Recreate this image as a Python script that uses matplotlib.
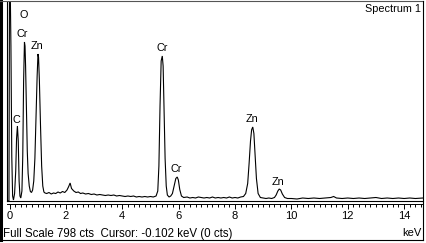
import matplotlib
matplotlib.use("Agg")
import matplotlib.pyplot as plt
from matplotlib.lines import Line2D

# ---------------- data ----------------
energy_kev = [
    -0.10, -0.06, -0.02, 0.00, 0.02, 0.05, 0.08, 0.11, 0.14, 0.18, 0.22, 0.25, 0.28, 0.31, 0.34,
    0.37, 0.40, 0.44, 0.47, 0.50, 0.53, 0.55, 0.57, 0.60, 0.63, 0.66, 0.70, 0.74, 0.78, 0.82,
    0.86, 0.90, 0.94, 0.98, 1.01, 1.03, 1.06, 1.10, 1.14, 1.18, 1.22, 1.26, 1.32, 1.40, 1.48,
    1.56, 1.64, 1.72, 1.80, 1.88, 1.96, 2.04, 2.10, 2.15, 2.20, 2.28, 2.36, 2.44, 2.52, 2.60,
    2.70, 2.80, 2.90, 3.00, 3.10, 3.20, 3.30, 3.40, 3.50, 3.60, 3.70, 3.80, 3.90, 4.00, 4.10,
    4.20, 4.30, 4.40, 4.50, 4.60, 4.70, 4.80, 4.90, 5.00, 5.10, 5.20, 5.26, 5.30, 5.34, 5.38,
    5.42, 5.45, 5.48, 5.52, 5.56, 5.60, 5.66, 5.72, 5.78, 5.84, 5.90, 5.95, 5.99, 6.04, 6.10,
    6.18, 6.30, 6.40, 6.50, 6.60, 6.70, 6.80, 6.90, 7.00, 7.10, 7.20, 7.30, 7.40, 7.50, 7.60,
    7.70, 7.80, 7.90, 8.00, 8.10, 8.20, 8.30, 8.38, 8.45, 8.50, 8.55, 8.59, 8.63, 8.67, 8.71,
    8.76, 8.82, 8.90, 9.00, 9.10, 9.20, 9.30, 9.40, 9.46, 9.52, 9.57, 9.62, 9.68, 9.76, 9.86,
    10.00, 10.20, 10.40, 10.60, 10.80, 11.00, 11.20, 11.40, 11.50, 11.60, 11.80, 12.00, 12.20,
    12.40, 12.60, 12.80, 13.00, 13.20, 13.40, 13.60, 13.80, 14.00, 14.20, 14.40, 14.67,
]
counts = [
    0, 0, 0, 900, 900, 620, 180, 20, 4, 30, 120, 250, 300, 240, 80,
    20, 12, 40, 180, 480, 636, 620, 540, 380, 200, 110, 60, 38, 34, 44,
    80, 170, 330, 500, 588, 575, 480, 300, 140, 60, 36, 32, 30, 34, 28,
    32, 30, 36, 32, 38, 34, 44, 58, 72, 50, 40, 34, 36, 30, 32,
    28, 30, 26, 28, 24, 26, 24, 22, 24, 22, 24, 20, 22, 20, 18,
    20, 18, 20, 16, 18, 16, 18, 16, 18, 16, 20, 40, 140, 380, 560,
    580, 540, 380, 170, 60, 24, 16, 20, 30, 60, 90, 96, 84, 46, 20,
    14, 16, 12, 14, 12, 16, 14, 12, 14, 12, 16, 12, 14, 12, 14,
    12, 16, 12, 14, 12, 16, 18, 30, 70, 150, 240, 285, 296, 270, 190,
    90, 30, 14, 12, 10, 12, 10, 14, 24, 40, 48, 44, 28, 14, 10,
    10, 8, 12, 10, 12, 10, 12, 14, 18, 12, 10, 12, 10,
    12, 10, 12, 14, 10, 12, 10, 12, 10, 12, 10, 12,
]
full_scale = 798
x_range = (-0.10, 14.67)
major_ticks = [0, 2, 4, 6, 8, 10, 12, 14]
minor_step = 0.2

peak_labels = ["O", "Cr", "Zn", "C", "Cr", "Cr", "Zn", "Zn"]
label_kev = [0.52, 0.46, 0.96, 0.23, 5.41, 5.93, 8.60, 9.53]
label_cts = [746, 670, 622, 324, 614, 128, 330, 76]

status_text = "Full Scale 798 cts  Cursor: -0.102 keV (0 cts)"
title_text = "Spectrum 1"
unit_text = "keV"

# ---------------- layout ----------------
W, H = 427, 243
FONT = "Liberation Sans"
fig = plt.figure(figsize=(W / 100, H / 100), dpi=100)
fig.patch.set_facecolor("white")

def fx(x):
    return x / W

def fy(y):
    return 1 - y / H

left_px, right_px, top_px, bot_px = 6.7, 423, 1.5, 201
ax = fig.add_axes([fx(left_px), fy(bot_px), fx(right_px - left_px), (bot_px - top_px) / H])
ax.plot(energy_kev, counts, color="black", lw=0.8, solid_joinstyle="miter")
ax.set_xlim(*x_range)
ax.set_ylim(0, full_scale)
ax.set_xticks([])
ax.set_yticks([])
for s in ["top", "right"]:
    ax.spines[s].set_visible(False)
ax.spines["left"].set_linewidth(0.8)
ax.spines["bottom"].set_linewidth(0.8)
ax.patch.set_alpha(0)

for t, e, c in zip(peak_labels, label_kev, label_cts):
    ax.text(e, c, t, ha="center", va="center", fontsize=7.8, family=FONT, color="black")

# tick axis below the plot
tax = fig.add_axes([fx(left_px), fy(203.5), fx(right_px - left_px), 0.0001])
tax.set_xlim(*x_range)
tax.set_yticks([])
for s in ["top", "right", "left"]:
    tax.spines[s].set_visible(False)
tax.spines["bottom"].set_linewidth(0.7)
tax.set_xticks(major_ticks)
tax.set_xticklabels([str(v) for v in major_ticks], fontsize=8, family=FONT)
minors = [round(i * minor_step, 2) for i in range(0, 74) if i * minor_step <= x_range[1]]
tax.set_xticks(minors, minor=True)
tax.tick_params(axis="x", which="major", direction="out", length=3.8, width=0.7, pad=1.5)
tax.tick_params(axis="x", which="minor", direction="out", length=2.2, width=0.7)
tax.patch.set_alpha(0)

# texts
fig.text(fx(421.5), fy(9.5), title_text, ha="right", va="center", fontsize=7.8, family=FONT)
fig.text(fx(421.5), fy(233), unit_text, ha="right", va="center", fontsize=8, family=FONT)
fig.text(fx(3), fy(233.5), status_text, ha="left", va="center", fontsize=8.3, family=FONT)

# outer frame
fig.add_artist(Line2D([fx(1.5), fx(1.5)], [fy(0), fy(239.5)], color="black", lw=2.2))
fig.add_artist(Line2D([fx(0), fx(423.5)], [fy(1), fy(1)], color="#555555", lw=0.8))
fig.add_artist(Line2D([fx(423.5), fx(423.5)], [fy(1), fy(239.5)], color="black", lw=0.8))
fig.add_artist(Line2D([fx(0), fx(423.5)], [fy(239.5), fy(239.5)], color="black", lw=0.8))

fig.savefig("out.png", dpi=100, facecolor="white")
